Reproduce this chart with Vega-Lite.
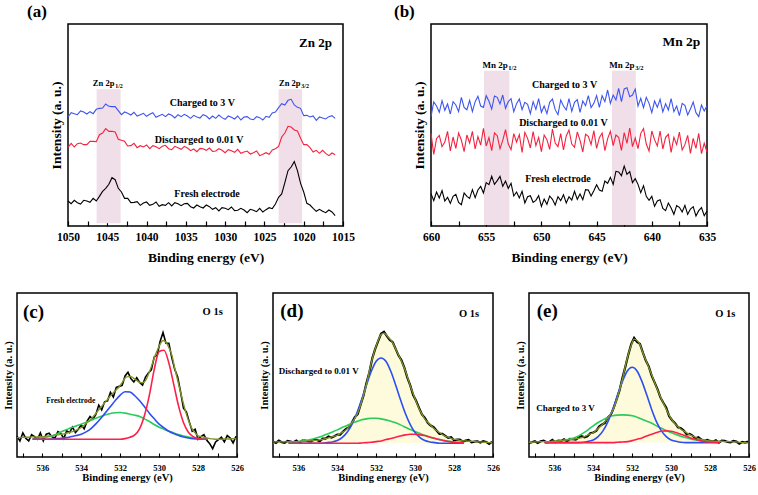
{
"$schema":"https://vega.github.io/schema/vega-lite/v6.json",
"padding":{"left":2,"top":2,"right":4,"bottom":4},
"config":{"font":"Liberation Serif, Times New Roman, serif","view":{"stroke":null},
"axis":{"labelFont":"Liberation Serif, Times New Roman, serif","titleFont":"Liberation Serif, Times New Roman, serif","labelFontWeight":"bold","titleFontWeight":"bold","labelColor":"#000","titleColor":"#000","tickColor":"#000","grid":false,"domain":false},
"text":{"font":"Liberation Serif, Times New Roman, serif","fontWeight":"bold","color":"#000"},
"title":{"font":"Liberation Serif, Times New Roman, serif","fontWeight":"bold","color":"#000"}},
"datasets":{
"A":[
{"be":1050,"k":75,"r":236,"b":327},{"be":1049.6,"k":67,"r":248,"b":340},{"be":1049.2,"k":77,"r":237,"b":337},{"be":1048.8,"k":70,"r":247,"b":334},{"be":1048.4,"k":66,"r":249,"b":345},{"be":1048,"k":77,"r":244,"b":342},{"be":1047.6,"k":75,"r":244,"b":336},{"be":1047.2,"k":71,"r":254,"b":343},{"be":1046.8,"k":83,"r":254,"b":337},{"be":1046.4,"k":75,"r":253,"b":350},
{"be":1046,"k":89,"r":274,"b":353},{"be":1045.6,"k":104,"r":279,"b":354},{"be":1045.2,"k":113,"r":292,"b":366},{"be":1044.8,"k":125,"r":284,"b":359},{"be":1044.4,"k":145,"r":284,"b":358},{"be":1044,"k":139,"r":282,"b":358},{"be":1043.6,"k":113,"r":260,"b":346},{"be":1043.2,"k":102,"r":257,"b":334},{"be":1042.8,"k":83,"r":254,"b":342},{"be":1042.4,"k":83,"r":240,"b":338},
{"be":1042,"k":70,"r":241,"b":333},{"be":1041.6,"k":71,"r":248,"b":341},{"be":1041.2,"k":73,"r":235,"b":330},{"be":1040.8,"k":62,"r":241,"b":334},{"be":1040.4,"k":69,"r":237,"b":338},{"be":1040,"k":72,"r":243,"b":329},{"be":1039.6,"k":62,"r":232,"b":335},{"be":1039.2,"k":65,"r":241,"b":340},{"be":1038.8,"k":72,"r":238,"b":326},{"be":1038.4,"k":59,"r":232,"b":331},
{"be":1038,"k":64,"r":239,"b":335},{"be":1037.6,"k":62,"r":242,"b":328},{"be":1037.2,"k":70,"r":232,"b":336},{"be":1036.8,"k":60,"r":229,"b":332},{"be":1036.4,"k":70,"r":239,"b":324},{"be":1036,"k":67,"r":235,"b":334},{"be":1035.6,"k":61,"r":230,"b":328},{"be":1035.2,"k":67,"r":239,"b":335},{"be":1034.8,"k":68,"r":234,"b":330},{"be":1034.4,"k":58,"r":226,"b":323},
{"be":1034,"k":54,"r":231,"b":332},{"be":1033.6,"k":63,"r":223,"b":327},{"be":1033.2,"k":58,"r":233,"b":324},{"be":1032.8,"k":54,"r":232,"b":334},{"be":1032.4,"k":63,"r":227,"b":330},{"be":1032,"k":58,"r":234,"b":321},{"be":1031.6,"k":50,"r":224,"b":330},{"be":1031.2,"k":55,"r":225,"b":323},{"be":1030.8,"k":45,"r":232,"b":333},{"be":1030.4,"k":55,"r":227,"b":325},
{"be":1030,"k":53,"r":220,"b":320},{"be":1029.6,"k":49,"r":229,"b":330},{"be":1029.2,"k":57,"r":226,"b":326},{"be":1028.8,"k":46,"r":221,"b":321},{"be":1028.4,"k":47,"r":230,"b":330},{"be":1028,"k":53,"r":218,"b":318},{"be":1027.6,"k":48,"r":222,"b":327},{"be":1027.2,"k":40,"r":225,"b":328},{"be":1026.8,"k":50,"r":216,"b":321},{"be":1026.4,"k":47,"r":220,"b":319},
{"be":1026,"k":43,"r":225,"b":328},{"be":1025.6,"k":53,"r":211,"b":325},{"be":1025.2,"k":42,"r":215,"b":318},{"be":1024.8,"k":49,"r":220,"b":329},{"be":1024.4,"k":55,"r":215,"b":326},{"be":1024,"k":52,"r":228,"b":339},{"be":1023.6,"k":66,"r":232,"b":342},{"be":1023.2,"k":86,"r":239,"b":355},{"be":1022.8,"k":96,"r":267,"b":367},{"be":1022.4,"k":130,"r":279,"b":363},
{"be":1022,"k":166,"r":299,"b":377},{"be":1021.6,"k":177,"r":297,"b":380},{"be":1021.2,"k":193,"r":288,"b":363},{"be":1020.8,"k":166,"r":285,"b":356},{"be":1020.4,"k":128,"r":263,"b":353},{"be":1020,"k":102,"r":244,"b":331},{"be":1019.6,"k":68,"r":244,"b":332},{"be":1019.2,"k":63,"r":235,"b":327},{"be":1018.8,"k":53,"r":222,"b":330},{"be":1018.4,"k":44,"r":227,"b":317},
{"be":1018,"k":50,"r":218,"b":327},{"be":1017.6,"k":44,"r":227,"b":324},{"be":1017.2,"k":40,"r":218,"b":321},{"be":1016.8,"k":48,"r":211,"b":328},{"be":1016.4,"k":42,"r":219,"b":331},{"be":1016,"k":31,"r":214,"b":323}],
"B":[
{"be":660,"k":97,"r":278,"b":328},{"be":659.75,"k":76,"r":215,"b":372},{"be":659.5,"k":102,"r":262,"b":360},{"be":659.25,"k":84,"r":272,"b":341},{"be":659,"k":106,"r":238,"b":376},{"be":658.75,"k":75,"r":252,"b":347},{"be":658.5,"k":86,"r":284,"b":366},{"be":658.25,"k":68,"r":225,"b":336},{"be":658,"k":89,"r":267,"b":373},{"be":657.75,"k":95,"r":233,"b":363},
{"be":657.5,"k":71,"r":279,"b":343},{"be":657.25,"k":64,"r":258,"b":386},{"be":657,"k":99,"r":223,"b":356},{"be":656.75,"k":89,"r":273,"b":349},{"be":656.5,"k":83,"r":249,"b":377},{"be":656.25,"k":109,"r":284,"b":343},{"be":656,"k":85,"r":231,"b":373},{"be":655.75,"k":108,"r":268,"b":389},{"be":655.5,"k":119,"r":243,"b":360},{"be":655.25,"k":99,"r":293,"b":356},
{"be":655,"k":130,"r":240,"b":391},{"be":654.75,"k":124,"r":265,"b":374},{"be":654.5,"k":149,"r":226,"b":351},{"be":654.25,"k":125,"r":279,"b":390},{"be":654,"k":136,"r":271,"b":386},{"be":653.75,"k":149,"r":232,"b":366},{"be":653.5,"k":119,"r":257,"b":393},{"be":653.25,"k":135,"r":289,"b":353},{"be":653,"k":113,"r":246,"b":373},{"be":652.75,"k":128,"r":229,"b":382},
{"be":652.5,"k":90,"r":277,"b":343},{"be":652.25,"k":102,"r":252,"b":367},{"be":652,"k":84,"r":274,"b":381},{"be":651.75,"k":104,"r":221,"b":349},{"be":651.5,"k":69,"r":281,"b":371},{"be":651.25,"k":88,"r":263,"b":365},{"be":651,"k":91,"r":234,"b":337},{"be":650.75,"k":71,"r":283,"b":373},{"be":650.5,"k":77,"r":241,"b":350},{"be":650.25,"k":91,"r":266,"b":382},
{"be":650,"k":59,"r":223,"b":341},{"be":649.75,"k":81,"r":273,"b":360},{"be":649.5,"k":65,"r":259,"b":337},{"be":649.25,"k":90,"r":230,"b":371},{"be":649,"k":80,"r":291,"b":381},{"be":648.75,"k":63,"r":249,"b":349},{"be":648.5,"k":88,"r":238,"b":334},{"be":648.25,"k":76,"r":277,"b":378},{"be":648,"k":94,"r":228,"b":360},{"be":647.75,"k":69,"r":270,"b":348},
{"be":647.5,"k":88,"r":288,"b":382},{"be":647.25,"k":78,"r":246,"b":344},{"be":647,"k":104,"r":236,"b":371},{"be":646.75,"k":80,"r":282,"b":379},{"be":646.5,"k":96,"r":257,"b":341},{"be":646.25,"k":79,"r":222,"b":375},{"be":646,"k":109,"r":275,"b":361},{"be":645.75,"k":108,"r":269,"b":391},{"be":645.5,"k":90,"r":244,"b":355},{"be":645.25,"k":106,"r":286,"b":368},
{"be":645,"k":124,"r":233,"b":391},{"be":644.75,"k":108,"r":265,"b":356},{"be":644.5,"k":104,"r":279,"b":391},{"be":644.25,"k":135,"r":226,"b":373},{"be":644,"k":128,"r":262,"b":408},{"be":643.75,"k":146,"r":284,"b":368},{"be":643.5,"k":125,"r":241,"b":393},{"be":643.25,"k":164,"r":273,"b":378},{"be":643,"k":162,"r":266,"b":413},{"be":642.75,"k":151,"r":227,"b":373},
{"be":642.5,"k":180,"r":280,"b":411},{"be":642.25,"k":155,"r":248,"b":415},{"be":642,"k":163,"r":294,"b":388},{"be":641.75,"k":130,"r":238,"b":393},{"be":641.5,"k":142,"r":264,"b":411},{"be":641.25,"k":125,"r":232,"b":360},{"be":641,"k":100,"r":278,"b":383},{"be":640.75,"k":121,"r":292,"b":355},{"be":640.5,"k":89,"r":246,"b":386},{"be":640.25,"k":77,"r":225,"b":368},
{"be":640,"k":89,"r":285,"b":340},{"be":639.75,"k":59,"r":259,"b":375},{"be":639.5,"k":75,"r":240,"b":356},{"be":639.25,"k":79,"r":285,"b":380},{"be":639,"k":53,"r":231,"b":342},{"be":638.75,"k":46,"r":266,"b":367},{"be":638.5,"k":69,"r":275,"b":348},{"be":638.25,"k":54,"r":221,"b":382},{"be":638,"k":35,"r":266,"b":343},{"be":637.75,"k":61,"r":244,"b":360},
{"be":637.5,"k":56,"r":282,"b":331},{"be":637.25,"k":42,"r":228,"b":368},{"be":637,"k":62,"r":244,"b":362},{"be":636.75,"k":35,"r":272,"b":333},{"be":636.5,"k":51,"r":218,"b":351},{"be":636.25,"k":58,"r":263,"b":372},{"be":636,"k":30,"r":233,"b":340},{"be":635.75,"k":46,"r":278,"b":328},{"be":635.5,"k":55,"r":217,"b":363},{"be":635.25,"k":31,"r":248,"b":345},
{"be":635,"k":45,"r":222,"b":361}],
"O":[
{"be":537.3,"c1":62,"c2":58,"d1":46,"d2":45,"e1":42,"e2":44},{"be":537.15,"c1":48,"c2":58,"d1":42,"d2":45,"e1":44,"e2":44},{"be":537,"c1":72,"c2":59,"d1":49,"d2":45,"e1":47,"e2":45},{"be":536.85,"c1":56,"c2":59,"d1":44,"d2":45,"e1":42,"e2":45},{"be":536.7,"c1":48,"c2":59,"d1":42,"d2":45,"e1":47,"e2":46},{"be":536.55,"c1":67,"c2":60,"d1":48,"d2":46,"e1":49,"e2":46},{"be":536.4,"c1":61,"c2":60,"d1":46,"d2":46,"e1":44,"e2":46},{"be":536.25,"c1":53,"c2":60,"d1":44,"d2":46,"e1":45,"e2":46},{"be":536.1,"c1":72,"c2":61,"d1":49,"d2":46,"e1":51,"e2":47},{"be":535.95,"c1":48,"c2":61,"d1":42,"d2":46,"e1":44,"e2":47},
{"be":535.8,"c1":68,"c2":62,"d1":49,"d2":47,"e1":49,"e2":48},{"be":535.65,"c1":71,"c2":63,"d1":49,"d2":47,"e1":48,"e2":49},{"be":535.5,"c1":60,"c2":64,"d1":47,"d2":48,"e1":53,"e2":50},{"be":535.35,"c1":57,"c2":65,"d1":46,"d2":48,"e1":47,"e2":51},{"be":535.2,"c1":76,"c2":66,"d1":52,"d2":49,"e1":54,"e2":52},{"be":535.05,"c1":71,"c2":68,"d1":51,"d2":50,"e1":53,"e2":53},{"be":534.9,"c1":55,"c2":69,"d1":47,"d2":51,"e1":52,"e2":54},{"be":534.75,"c1":78,"c2":71,"d1":55,"d2":53,"e1":58,"e2":56},{"be":534.6,"c1":73,"c2":74,"d1":55,"d2":55,"e1":62,"e2":58},{"be":534.45,"c1":89,"c2":76,"d1":61,"d2":57,"e1":59,"e2":61},
{"be":534.3,"c1":73,"c2":79,"d1":58,"d2":60,"e1":62,"e2":65},{"be":534.15,"c1":83,"c2":83,"d1":62,"d2":62,"e1":71,"e2":69},{"be":534,"c1":96,"c2":88,"d1":67,"d2":65,"e1":73,"e2":73},{"be":533.85,"c1":84,"c2":95,"d1":67,"d2":70,"e1":78,"e2":80},{"be":533.7,"c1":107,"c2":103,"d1":76,"d2":75,"e1":91,"e2":88},{"be":533.55,"c1":121,"c2":110,"d1":84,"d2":81,"e1":97,"e2":96},{"be":533.4,"c1":113,"c2":120,"d1":89,"d2":91,"e1":102,"e2":105},{"be":533.25,"c1":127,"c2":130,"d1":102,"d2":103,"e1":118,"e2":117},{"be":533.1,"c1":155,"c2":141,"d1":119,"d2":115,"e1":126,"e2":130},{"be":532.95,"c1":141,"c2":151,"d1":128,"d2":131,"e1":147,"e2":145},
{"be":532.8,"c1":165,"c2":162,"d1":156,"d2":155,"e1":172,"e2":170},{"be":532.65,"c1":168,"c2":172,"d1":184,"d2":185,"e1":199,"e2":200},{"be":532.5,"c1":193,"c2":183,"d1":221,"d2":218,"e1":237,"e2":233},{"be":532.35,"c1":179,"c2":192,"d1":253,"d2":257,"e1":270,"e2":272},{"be":532.2,"c1":208,"c2":201,"d1":295,"d2":293,"e1":306,"e2":307},{"be":532.05,"c1":211,"c2":210,"d1":323,"d2":323,"e1":337,"e2":334},{"be":531.9,"c1":214,"c2":222,"d1":346,"d2":348,"e1":356,"e2":352},{"be":531.75,"c1":242,"c2":236,"d1":368,"d2":366,"e1":344,"e2":348},{"be":531.6,"c1":253,"c2":240,"d1":374,"d2":370,"e1":338,"e2":336},{"be":531.45,"c1":234,"c2":240,"d1":361,"d2":363,"e1":312,"e2":311},
{"be":531.3,"c1":224,"c2":235,"d1":350,"d2":353,"e1":288,"e2":290},{"be":531.15,"c1":237,"c2":229,"d1":343,"d2":341,"e1":271,"e2":268},{"be":531,"c1":223,"c2":223,"d1":323,"d2":323,"e1":243,"e2":246},{"be":530.85,"c1":215,"c2":222,"d1":303,"d2":305,"e1":223,"e2":223},{"be":530.7,"c1":239,"c2":228,"d1":289,"d2":286,"e1":203,"e2":201},{"be":530.55,"c1":251,"c2":247,"d1":266,"d2":265,"e1":178,"e2":180},{"be":530.4,"c1":260,"c2":270,"d1":237,"d2":240,"e1":162,"e2":161},{"be":530.25,"c1":299,"c2":296,"d1":214,"d2":213,"e1":147,"e2":143},{"be":530.1,"c1":304,"c2":318,"d1":185,"d2":189,"e1":122,"e2":125},{"be":529.95,"c1":345,"c2":337,"d1":168,"d2":166,"e1":110,"e2":110},
{"be":529.8,"c1":372,"c2":348,"d1":147,"d2":145,"e1":101,"e2":99},{"be":529.65,"c1":340,"c2":343,"d1":127,"d2":128,"e1":89,"e2":91},{"be":529.5,"c1":340,"c2":327,"d1":117,"d2":113,"e1":86,"e2":83},{"be":529.35,"c1":297,"c2":305,"d1":102,"d2":104,"e1":79,"e2":78},{"be":529.2,"c1":262,"c2":266,"d1":94,"d2":95,"e1":68,"e2":72},{"be":529.05,"c1":240,"c2":230,"d1":89,"d2":86,"e1":69,"e2":67},{"be":528.9,"c1":195,"c2":194,"d1":79,"d2":79,"e1":64,"e2":63},{"be":528.75,"c1":146,"c2":159,"d1":69,"d2":73,"e1":56,"e2":59},{"be":528.6,"c1":135,"c2":128,"d1":69,"d2":67,"e1":59,"e2":55},{"be":528.45,"c1":105,"c2":102,"d1":63,"d2":62,"e1":52,"e2":53},
{"be":528.3,"c1":77,"c2":83,"d1":57,"d2":59,"e1":48,"e2":51},{"be":528.15,"c1":83,"c2":72,"d1":59,"d2":56,"e1":51,"e2":49},{"be":528,"c1":53,"c2":63,"d1":50,"d2":53,"e1":48,"e2":48},{"be":527.85,"c1":61,"c2":61,"d1":52,"d2":52,"e1":46,"e2":48},{"be":527.7,"c1":67,"c2":59,"d1":52,"d2":50,"e1":50,"e2":47},{"be":527.55,"c1":50,"c2":57,"d1":46,"d2":48,"e1":43,"e2":47},{"be":527.4,"c1":40,"c2":55,"d1":49,"d2":48,"e1":49,"e2":47},{"be":527.25,"c1":25,"c2":54,"d1":51,"d2":47,"e1":48,"e2":46},{"be":527.1,"c1":45,"c2":53,"d1":44,"d2":47,"e1":45,"e2":46},{"be":526.95,"c1":52,"c2":53,"d1":46,"d2":46,"e1":44,"e2":46},
{"be":526.8,"c1":59,"c2":53,"d1":47,"d2":45,"e1":48,"e2":45},{"be":526.65,"c1":45,"c2":54,"d1":43,"d2":45,"e1":46,"e2":45},{"be":526.5,"c1":64,"c2":54,"d1":47,"d2":44,"e1":40,"e2":44},{"be":526.35,"c1":57,"c2":54,"d1":45,"d2":44,"e1":45,"e2":43},{"be":526.2,"c1":42,"c2":55,"d1":39,"d2":43,"e1":43,"e2":43},{"be":526.05,"c1":62,"c2":55,"d1":45,"d2":43,"e1":46,"e2":42}],
"K":[
{"be":536.5,"cb":53,"cg":55,"cr":53,"db":41,"dg":44,"dr":41,"eb":43,"eg":44,"er":43},
{"be":536.25,"cb":53,"cg":56,"cr":53,"db":41,"dg":45,"dr":41,"eb":43,"eg":45,"er":43},
{"be":536,"cb":53,"cg":58,"cr":53,"db":41,"dg":46,"dr":41,"eb":43,"eg":46,"er":43},
{"be":535.75,"cb":53,"cg":60,"cr":53,"db":41,"dg":49,"dr":41,"eb":43,"eg":48,"er":43},
{"be":535.5,"cb":54,"cg":63,"cr":53,"db":41,"dg":51,"dr":41,"eb":43,"eg":50,"er":43},
{"be":535.25,"cb":55,"cg":69,"cr":53,"db":41,"dg":54,"dr":41,"eb":43,"eg":53,"er":43},
{"be":535,"cb":56,"cg":76,"cr":53,"db":41,"dg":58,"dr":41,"eb":43,"eg":57,"er":43},
{"be":534.75,"cb":58,"cg":82,"cr":53,"db":41,"dg":63,"dr":41,"eb":43,"eg":63,"er":43},
{"be":534.5,"cb":61,"cg":88,"cr":53,"db":43,"dg":69,"dr":41,"eb":44,"eg":72,"er":43},
{"be":534.25,"cb":64,"cg":93,"cr":53,"db":45,"dg":75,"dr":41,"eb":47,"eg":82,"er":43},
{"be":534,"cb":68,"cg":98,"cr":53,"db":49,"dg":81,"dr":41,"eb":51,"eg":93,"er":43},
{"be":533.75,"cb":75,"cg":104,"cr":53,"db":58,"dg":88,"dr":41,"eb":61,"eg":103,"er":43},
{"be":533.5,"cb":85,"cg":110,"cr":53,"db":73,"dg":94,"dr":41,"eb":78,"eg":111,"er":43},
{"be":533.25,"cb":99,"cg":116,"cr":53,"db":97,"dg":101,"dr":41,"eb":105,"eg":119,"er":43},
{"be":533,"cb":115,"cg":121,"cr":53,"db":130,"dg":106,"dr":41,"eb":142,"eg":123,"er":43},
{"be":532.75,"cb":133,"cg":126,"cr":53,"db":171,"dg":111,"dr":42,"eb":185,"eg":125,"er":44},
{"be":532.5,"cb":151,"cg":130,"cr":53,"db":215,"dg":114,"dr":43,"eb":226,"eg":126,"er":45},
{"be":532.25,"cb":169,"cg":132,"cr":53,"db":256,"dg":116,"dr":44,"eb":257,"eg":125,"er":46},
{"be":532,"cb":185,"cg":133,"cr":53,"db":286,"dg":116,"dr":46,"eb":268,"eg":123,"er":49},
{"be":531.75,"cb":195,"cg":131,"cr":55,"db":296,"dg":114,"dr":48,"eb":257,"eg":119,"er":53},
{"be":531.5,"cb":194,"cg":128,"cr":59,"db":286,"dg":111,"dr":52,"eb":226,"eg":113,"er":57},
{"be":531.25,"cb":183,"cg":125,"cr":66,"db":256,"dg":107,"dr":55,"eb":185,"eg":107,"er":63},
{"be":531,"cb":168,"cg":121,"cr":85,"db":215,"dg":102,"dr":59,"eb":142,"eg":101,"er":68},
{"be":530.75,"cb":150,"cg":114,"cr":125,"db":171,"dg":96,"dr":63,"eb":105,"eg":93,"er":73},
{"be":530.5,"cb":131,"cg":106,"cr":185,"db":130,"dg":89,"dr":66,"eb":78,"eg":86,"er":77},
{"be":530.25,"cb":114,"cg":97,"cr":262,"db":97,"dg":82,"dr":68,"eb":61,"eg":79,"er":78},
{"be":530,"cb":98,"cg":89,"cr":315,"db":73,"dg":76,"dr":68,"eb":51,"eg":73,"er":77},
{"be":529.75,"cb":87,"cg":83,"cr":319,"db":58,"dg":70,"dr":66,"eb":47,"eg":67,"er":73},
{"be":529.5,"cb":77,"cg":77,"cr":281,"db":49,"dg":64,"dr":64,"eb":44,"eg":62,"er":68},
{"be":529.25,"cb":70,"cg":72,"cr":217,"db":45,"dg":59,"dr":60,"eb":43,"eg":58,"er":63},
{"be":529,"cb":64,"cg":67,"cr":152,"db":43,"dg":55,"dr":56,"eb":43,"eg":54,"er":57},
{"be":528.75,"cb":60,"cg":63,"cr":103,"db":41,"dg":52,"dr":52,"eb":43,"eg":51,"er":53},
{"be":528.5,"cb":57,"cg":60,"cr":74,"db":41,"dg":49,"dr":49,"eb":43,"eg":49,"er":49},
{"be":528.25,"cb":55,"cg":57,"cr":61,"db":41,"dg":47,"dr":46,"eb":43,"eg":47,"er":46},
{"be":528,"cb":54,"cg":55,"cr":55,"db":41,"dg":45,"dr":44,"eb":43,"eg":46,"er":45},
{"be":527.75,"cb":53,"cg":54,"cr":53,"db":41,"dg":44,"dr":43,"eb":43,"eg":45,"er":44},
{"be":527.5,"cb":53,"cg":53,"cr":53,"db":41,"dg":43,"dr":42,"eb":43,"eg":44,"er":43}]
},
"spacing":27,
"vconcat":[
{"spacing":8,"hconcat":[
 {"width":1,"height":1,"data":{"values":[]},"mark":"point"},
 {"spacing":37,"hconcat":[
  {"width":275,"height":202,"view":{"stroke":"#000","strokeWidth":1.5},
   "title":{"text":"(a)","anchor":"start","frame":"group","dx":-41,"offset":3,"fontSize":17},
   "encoding":{"x":{"field":"be","type":"quantitative","scale":{"domain":[1015,1050],"reverse":true,"nice":false,"zero":false},
     "axis":{"title":"Binding energy (eV)","values":[1015,1017.5,1020,1022.5,1025,1027.5,1030,1032.5,1035,1037.5,1040,1042.5,1045,1047.5,1050],"format":"d","labelExpr":"datum.value % 5 == 0 ? datum.label : ''","tickSize":-5,"tickWidth":1.2,"labelPadding":10,"labelFontSize":11.5,"titleFontSize":13.5,"titlePadding":8,"labelFlush":false,"labelOverlap":false}}},
   "layer":[
    {"data":{"values":[{"be":1046.36,"be2":1043.3,"v":8,"v2":410},{"be":1023.2,"be2":1020.2,"v":8,"v2":410}]},
     "mark":{"type":"rect","color":"#f0dee8"},
     "encoding":{"x2":{"field":"be2"},"y":{"field":"v","type":"quantitative","scale":{"domain":[0,606],"nice":false,"zero":false},"axis":{"title":"Intensity (a. u.)","ticks":false,"labels":false,"titlePadding":5,"titleFontSize":13.5}},"y2":{"field":"v2"}}},
    {"data":{"name":"A"},"mark":{"type":"line","color":"#000","strokeWidth":1.1},"encoding":{"y":{"field":"k","type":"quantitative","scale":{"domain":[0,606],"nice":false,"zero":false},"axis":{"title":"Intensity (a. u.)","ticks":false,"labels":false,"titlePadding":5,"titleFontSize":13.5}}}},
    {"data":{"name":"A"},"mark":{"type":"line","color":"#f5223f","strokeWidth":1.1},"encoding":{"y":{"field":"r","type":"quantitative","scale":{"domain":[0,606],"nice":false,"zero":false},"axis":{"title":"Intensity (a. u.)","ticks":false,"labels":false,"titlePadding":5,"titleFontSize":13.5}}}},
    {"data":{"name":"A"},"mark":{"type":"line","color":"#3d55f0","strokeWidth":1.1},"encoding":{"y":{"field":"b","type":"quantitative","scale":{"domain":[0,606],"nice":false,"zero":false},"axis":{"title":"Intensity (a. u.)","ticks":false,"labels":false,"titlePadding":5,"titleFontSize":13.5}}}},
    {"data":{"values":[{"be":1032.9,"v":368,"t":"Charged to 3 V"},{"be":1033.3,"v":258,"t":"Discharged to 0.01 V"},{"be":1032.3,"v":95,"t":"Fresh electrode"}]},
     "mark":{"type":"text","fontSize":10,"align":"center","baseline":"middle"},
     "encoding":{"y":{"field":"v","type":"quantitative","scale":{"domain":[0,606],"nice":false,"zero":false},"axis":{"title":"Intensity (a. u.)","ticks":false,"labels":false,"titlePadding":5,"titleFontSize":13.5}},"text":{"field":"t"}}},
    {"data":{"values":[{"be":1044.1,"v":430,"t":"Zn 2p"},{"be":1020.4,"v":430,"t":"Zn 2p"}]},
     "mark":{"type":"text","fontSize":8.5,"align":"right","baseline":"middle"},
     "encoding":{"y":{"field":"v","type":"quantitative","scale":{"domain":[0,606],"nice":false,"zero":false},"axis":{"title":"Intensity (a. u.)","ticks":false,"labels":false,"titlePadding":5,"titleFontSize":13.5}},"text":{"field":"t"}}},
    {"data":{"values":[{"be":1044.0,"v":420,"t":"1/2"},{"be":1020.3,"v":420,"t":"3/2"}]},
     "mark":{"type":"text","fontSize":6,"align":"left","baseline":"middle"},
     "encoding":{"y":{"field":"v","type":"quantitative","scale":{"domain":[0,606],"nice":false,"zero":false},"axis":{"title":"Intensity (a. u.)","ticks":false,"labels":false,"titlePadding":5,"titleFontSize":13.5}},"text":{"field":"t"}}},
    {"data":{"values":[{"be":1016.4,"v":548,"t":"Zn 2p"}]},
     "mark":{"type":"text","fontSize":13,"align":"right","baseline":"middle"},
     "encoding":{"y":{"field":"v","type":"quantitative","scale":{"domain":[0,606],"nice":false,"zero":false},"axis":{"title":"Intensity (a. u.)","ticks":false,"labels":false,"titlePadding":5,"titleFontSize":13.5}},"text":{"field":"t"}}}
   ]},
  {"width":276,"height":202,"view":{"stroke":"#000","strokeWidth":1.5},
   "title":{"text":"(b)","anchor":"start","frame":"group","dx":-37,"offset":3,"fontSize":17},
   "encoding":{"x":{"field":"be","type":"quantitative","scale":{"domain":[635,660],"reverse":true,"nice":false,"zero":false},
     "axis":{"title":"Binding energy (eV)","values":[635,637.5,640,642.5,645,647.5,650,652.5,655,657.5,660],"format":"d","labelExpr":"datum.value % 5 == 0 ? datum.label : ''","tickSize":-5,"tickWidth":1.2,"labelPadding":10,"labelFontSize":11.5,"titleFontSize":13.5,"titlePadding":8,"labelFlush":false,"labelOverlap":false}}},
   "layer":[
    {"data":{"values":[{"be":655.2,"be2":652.9,"v":3,"v2":466},{"be":643.6,"be2":641.45,"v":3,"v2":466}]},
     "mark":{"type":"rect","color":"#f0dee8"},
     "encoding":{"x2":{"field":"be2"},"y":{"field":"v","type":"quantitative","scale":{"domain":[0,606],"nice":false,"zero":false},"axis":{"title":"Intensity (a. u.)","ticks":false,"labels":false,"titlePadding":5,"titleFontSize":13.5}},"y2":{"field":"v2"}}},
    {"data":{"name":"B"},"mark":{"type":"line","color":"#000","strokeWidth":1.1},"encoding":{"y":{"field":"k","type":"quantitative","scale":{"domain":[0,606],"nice":false,"zero":false},"axis":{"title":"Intensity (a. u.)","ticks":false,"labels":false,"titlePadding":5,"titleFontSize":13.5}}}},
    {"data":{"name":"B"},"mark":{"type":"line","color":"#f5223f","strokeWidth":1.1},"encoding":{"y":{"field":"r","type":"quantitative","scale":{"domain":[0,606],"nice":false,"zero":false},"axis":{"title":"Intensity (a. u.)","ticks":false,"labels":false,"titlePadding":5,"titleFontSize":13.5}}}},
    {"data":{"name":"B"},"mark":{"type":"line","color":"#3d55f0","strokeWidth":1.1},"encoding":{"y":{"field":"b","type":"quantitative","scale":{"domain":[0,606],"nice":false,"zero":false},"axis":{"title":"Intensity (a. u.)","ticks":false,"labels":false,"titlePadding":5,"titleFontSize":13.5}}}},
    {"data":{"values":[{"be":647.9,"v":423,"t":"Charged to 3 V"},{"be":648.0,"v":308,"t":"Discharged to 0.01 V"},{"be":648.5,"v":140,"t":"Fresh electrode"}]},
     "mark":{"type":"text","fontSize":10,"align":"center","baseline":"middle"},
     "encoding":{"y":{"field":"v","type":"quantitative","scale":{"domain":[0,606],"nice":false,"zero":false},"axis":{"title":"Intensity (a. u.)","ticks":false,"labels":false,"titlePadding":5,"titleFontSize":13.5}},"text":{"field":"t"}}},
    {"data":{"values":[{"be":653.05,"v":483,"t":"Mn 2p"},{"be":641.56,"v":483,"t":"Mn 2p"}]},
     "mark":{"type":"text","fontSize":9,"align":"right","baseline":"middle"},
     "encoding":{"y":{"field":"v","type":"quantitative","scale":{"domain":[0,606],"nice":false,"zero":false},"axis":{"title":"Intensity (a. u.)","ticks":false,"labels":false,"titlePadding":5,"titleFontSize":13.5}},"text":{"field":"t"}}},
    {"data":{"values":[{"be":653.0,"v":474,"t":"1/2"},{"be":641.5,"v":474,"t":"3/2"}]},
     "mark":{"type":"text","fontSize":6.5,"align":"left","baseline":"middle"},
     "encoding":{"y":{"field":"v","type":"quantitative","scale":{"domain":[0,606],"nice":false,"zero":false},"axis":{"title":"Intensity (a. u.)","ticks":false,"labels":false,"titlePadding":5,"titleFontSize":13.5}},"text":{"field":"t"}}},
    {"data":{"values":[{"be":635.6,"v":553,"t":"Mn 2p"}]},
     "mark":{"type":"text","fontSize":13.5,"align":"right","baseline":"middle"},
     "encoding":{"y":{"field":"v","type":"quantitative","scale":{"domain":[0,606],"nice":false,"zero":false},"axis":{"title":"Intensity (a. u.)","ticks":false,"labels":false,"titlePadding":5,"titleFontSize":13.5}},"text":{"field":"t"}}}
   ]}
 ]}
]},
{"spacing":13,"hconcat":[
 {"width":220,"height":164,"view":{"stroke":"#000","strokeWidth":1.5},
  "encoding":{"x":{"field":"be","type":"quantitative","scale":{"domain":[526,537.3],"reverse":true,"nice":false,"zero":false},
    "axis":{"title":"Binding energy (eV)","values":[526,527,528,529,530,531,532,533,534,535,536,537],"format":"d","labelExpr":"datum.value % 2 == 0 ? datum.label : ''","tickSize":-4,"tickWidth":1.1,"labelPadding":10,"labelFontSize":8.5,"titleFontSize":10.5,"titlePadding":1,"labelFlush":false,"labelOverlap":false}}},
  "layer":[
   {"data":{"values":[{}]},"mark":{"type":"rule","color":"#a9c1ea","strokeDash":[2,2],"strokeWidth":1},"encoding":{"x":{"datum":535.5},"x2":{"datum":526.5},"y":{"datum":53,"type":"quantitative","scale":{"domain":[0,490],"nice":false,"zero":false},"axis":{"title":"Intensity (a. u.)","ticks":false,"labels":false,"titlePadding":4,"titleFontSize":10.5}}}},
   {"data":{"name":"O"},"mark":{"type":"line","color":"#000","strokeWidth":1.6},"encoding":{"y":{"field":"c1","type":"quantitative","scale":{"domain":[0,490],"nice":false,"zero":false},"axis":{"title":"Intensity (a. u.)","ticks":false,"labels":false,"titlePadding":4,"titleFontSize":10.5}}}},
   {"data":{"name":"K"},"mark":{"type":"line","color":"#29cc5b","strokeWidth":1.6,"interpolate":"monotone"},"encoding":{"y":{"field":"cg","type":"quantitative","scale":{"domain":[0,490],"nice":false,"zero":false},"axis":{"title":"Intensity (a. u.)","ticks":false,"labels":false,"titlePadding":4,"titleFontSize":10.5}}}},
   {"data":{"name":"K"},"mark":{"type":"line","color":"#2c4ff2","strokeWidth":1.6,"interpolate":"monotone"},"encoding":{"y":{"field":"cb","type":"quantitative","scale":{"domain":[0,490],"nice":false,"zero":false},"axis":{"title":"Intensity (a. u.)","ticks":false,"labels":false,"titlePadding":4,"titleFontSize":10.5}}}},
   {"data":{"name":"K"},"mark":{"type":"line","color":"#ff1f4a","strokeWidth":1.6,"interpolate":"monotone"},"encoding":{"y":{"field":"cr","type":"quantitative","scale":{"domain":[0,490],"nice":false,"zero":false},"axis":{"title":"Intensity (a. u.)","ticks":false,"labels":false,"titlePadding":4,"titleFontSize":10.5}}}},
   {"data":{"name":"O"},"mark":{"type":"line","color":"#7f9526","strokeWidth":1.4,"interpolate":"monotone"},"encoding":{"y":{"field":"c2","type":"quantitative","scale":{"domain":[0,490],"nice":false,"zero":false},"axis":{"title":"Intensity (a. u.)","ticks":false,"labels":false,"titlePadding":4,"titleFontSize":10.5}}}},
   {"data":{"values":[{"be":536.45,"v":433,"t":"(c)","s":19},{"be":527.25,"v":433,"t":"O 1s","s":10.5}]},"mark":{"type":"text","align":"center","baseline":"middle"},
    "encoding":{"y":{"field":"v","type":"quantitative","scale":{"domain":[0,490],"nice":false,"zero":false},"axis":{"title":"Intensity (a. u.)","ticks":false,"labels":false,"titlePadding":4,"titleFontSize":10.5}},"text":{"field":"t"},"size":{"field":"s","type":"quantitative","scale":null}}},
   {"data":{"values":[{"be":535.8,"v":168,"t":"Fresh electrode"}]},"mark":{"type":"text","align":"left","baseline":"middle","fontSize":7.5},
    "encoding":{"y":{"field":"v","type":"quantitative","scale":{"domain":[0,490],"nice":false,"zero":false},"axis":{"title":"Intensity (a. u.)","ticks":false,"labels":false,"titlePadding":4,"titleFontSize":10.5}},"text":{"field":"t"}}}
  ]},
 {"width":220,"height":164,"view":{"stroke":"#000","strokeWidth":1.5},
  "encoding":{"x":{"field":"be","type":"quantitative","scale":{"domain":[526,537.3],"reverse":true,"nice":false,"zero":false},
    "axis":{"title":"Binding energy (eV)","values":[526,527,528,529,530,531,532,533,534,535,536,537],"format":"d","labelExpr":"datum.value % 2 == 0 ? datum.label : ''","tickSize":-4,"tickWidth":1.1,"labelPadding":10,"labelFontSize":8.5,"titleFontSize":10.5,"titlePadding":1,"labelFlush":false,"labelOverlap":false}}},
  "layer":[
   {"data":{"name":"O"},"mark":{"type":"area","color":"#fefbdc","interpolate":"monotone"},"encoding":{"y":{"field":"d2","type":"quantitative","scale":{"domain":[0,490],"nice":false,"zero":false},"axis":{"title":"Intensity (a. u.)","ticks":false,"labels":false,"titlePadding":4,"titleFontSize":10.5}},"y2":{"datum":41}}},
   {"data":{"values":[{}]},"mark":{"type":"rule","color":"#a9c1ea","strokeDash":[2,2],"strokeWidth":1},"encoding":{"x":{"datum":535.5},"x2":{"datum":526.5},"y":{"datum":41,"type":"quantitative","scale":{"domain":[0,490],"nice":false,"zero":false},"axis":{"title":"Intensity (a. u.)","ticks":false,"labels":false,"titlePadding":4,"titleFontSize":10.5}}}},
   {"data":{"name":"O"},"mark":{"type":"line","color":"#000","strokeWidth":2.2},"encoding":{"y":{"field":"d1","type":"quantitative","scale":{"domain":[0,490],"nice":false,"zero":false},"axis":{"title":"Intensity (a. u.)","ticks":false,"labels":false,"titlePadding":4,"titleFontSize":10.5}}}},
   {"data":{"name":"K"},"mark":{"type":"line","color":"#29cc5b","strokeWidth":1.6,"interpolate":"monotone"},"encoding":{"y":{"field":"dg","type":"quantitative","scale":{"domain":[0,490],"nice":false,"zero":false},"axis":{"title":"Intensity (a. u.)","ticks":false,"labels":false,"titlePadding":4,"titleFontSize":10.5}}}},
   {"data":{"name":"K"},"mark":{"type":"line","color":"#2c4ff2","strokeWidth":1.6,"interpolate":"monotone"},"encoding":{"y":{"field":"db","type":"quantitative","scale":{"domain":[0,490],"nice":false,"zero":false},"axis":{"title":"Intensity (a. u.)","ticks":false,"labels":false,"titlePadding":4,"titleFontSize":10.5}}}},
   {"data":{"name":"K"},"mark":{"type":"line","color":"#ff1f4a","strokeWidth":1.6,"interpolate":"monotone"},"encoding":{"y":{"field":"dr","type":"quantitative","scale":{"domain":[0,490],"nice":false,"zero":false},"axis":{"title":"Intensity (a. u.)","ticks":false,"labels":false,"titlePadding":4,"titleFontSize":10.5}}}},
   {"data":{"name":"O"},"mark":{"type":"line","color":"#7f9526","strokeWidth":1.3,"interpolate":"monotone"},"encoding":{"y":{"field":"d2","type":"quantitative","scale":{"domain":[0,490],"nice":false,"zero":false},"axis":{"title":"Intensity (a. u.)","ticks":false,"labels":false,"titlePadding":4,"titleFontSize":10.5}}}},
   {"data":{"values":[{"be":536.33,"v":436,"t":"(d)","s":19},{"be":527.23,"v":428,"t":"O 1s","s":10.5}]},"mark":{"type":"text","align":"center","baseline":"middle"},
    "encoding":{"y":{"field":"v","type":"quantitative","scale":{"domain":[0,490],"nice":false,"zero":false},"axis":{"title":"Intensity (a. u.)","ticks":false,"labels":false,"titlePadding":4,"titleFontSize":10.5}},"text":{"field":"t"},"size":{"field":"s","type":"quantitative","scale":null}}},
   {"data":{"values":[{"be":537.0,"v":258,"t":"Discharged to 0.01 V"}]},"mark":{"type":"text","align":"left","baseline":"middle","fontSize":9},
    "encoding":{"y":{"field":"v","type":"quantitative","scale":{"domain":[0,490],"nice":false,"zero":false},"axis":{"title":"Intensity (a. u.)","ticks":false,"labels":false,"titlePadding":4,"titleFontSize":10.5}},"text":{"field":"t"}}}
  ]},
 {"width":220,"height":164,"view":{"stroke":"#000","strokeWidth":1.5},
  "encoding":{"x":{"field":"be","type":"quantitative","scale":{"domain":[526,537.3],"reverse":true,"nice":false,"zero":false},
    "axis":{"title":"Binding energy (eV)","values":[526,527,528,529,530,531,532,533,534,535,536,537],"format":"d","labelExpr":"datum.value % 2 == 0 ? datum.label : ''","tickSize":-4,"tickWidth":1.1,"labelPadding":10,"labelFontSize":8.5,"titleFontSize":10.5,"titlePadding":1,"labelFlush":false,"labelOverlap":false}}},
  "layer":[
   {"data":{"name":"O"},"mark":{"type":"area","color":"#fefbdc","interpolate":"monotone"},"encoding":{"y":{"field":"e2","type":"quantitative","scale":{"domain":[0,490],"nice":false,"zero":false},"axis":{"title":"Intensity (a. u.)","ticks":false,"labels":false,"titlePadding":4,"titleFontSize":10.5}},"y2":{"datum":43}}},
   {"data":{"values":[{}]},"mark":{"type":"rule","color":"#a9c1ea","strokeDash":[2,2],"strokeWidth":1},"encoding":{"x":{"datum":535.5},"x2":{"datum":526.5},"y":{"datum":43,"type":"quantitative","scale":{"domain":[0,490],"nice":false,"zero":false},"axis":{"title":"Intensity (a. u.)","ticks":false,"labels":false,"titlePadding":4,"titleFontSize":10.5}}}},
   {"data":{"name":"O"},"mark":{"type":"line","color":"#000","strokeWidth":2.2},"encoding":{"y":{"field":"e1","type":"quantitative","scale":{"domain":[0,490],"nice":false,"zero":false},"axis":{"title":"Intensity (a. u.)","ticks":false,"labels":false,"titlePadding":4,"titleFontSize":10.5}}}},
   {"data":{"name":"K"},"mark":{"type":"line","color":"#29cc5b","strokeWidth":1.6,"interpolate":"monotone"},"encoding":{"y":{"field":"eg","type":"quantitative","scale":{"domain":[0,490],"nice":false,"zero":false},"axis":{"title":"Intensity (a. u.)","ticks":false,"labels":false,"titlePadding":4,"titleFontSize":10.5}}}},
   {"data":{"name":"K"},"mark":{"type":"line","color":"#2c4ff2","strokeWidth":1.6,"interpolate":"monotone"},"encoding":{"y":{"field":"eb","type":"quantitative","scale":{"domain":[0,490],"nice":false,"zero":false},"axis":{"title":"Intensity (a. u.)","ticks":false,"labels":false,"titlePadding":4,"titleFontSize":10.5}}}},
   {"data":{"name":"K"},"mark":{"type":"line","color":"#ff1f4a","strokeWidth":1.6,"interpolate":"monotone"},"encoding":{"y":{"field":"er","type":"quantitative","scale":{"domain":[0,490],"nice":false,"zero":false},"axis":{"title":"Intensity (a. u.)","ticks":false,"labels":false,"titlePadding":4,"titleFontSize":10.5}}}},
   {"data":{"name":"O"},"mark":{"type":"line","color":"#7f9526","strokeWidth":1.3,"interpolate":"monotone"},"encoding":{"y":{"field":"e2","type":"quantitative","scale":{"domain":[0,490],"nice":false,"zero":false},"axis":{"title":"Intensity (a. u.)","ticks":false,"labels":false,"titlePadding":4,"titleFontSize":10.5}}}},
   {"data":{"values":[{"be":536.36,"v":436,"t":"(e)","s":19},{"be":527.22,"v":428,"t":"O 1s","s":10.5}]},"mark":{"type":"text","align":"center","baseline":"middle"},
    "encoding":{"y":{"field":"v","type":"quantitative","scale":{"domain":[0,490],"nice":false,"zero":false},"axis":{"title":"Intensity (a. u.)","ticks":false,"labels":false,"titlePadding":4,"titleFontSize":10.5}},"text":{"field":"t"},"size":{"field":"s","type":"quantitative","scale":null}}},
   {"data":{"values":[{"be":536.93,"v":146,"t":"Charged to 3 V"}]},"mark":{"type":"text","align":"left","baseline":"middle","fontSize":9},
    "encoding":{"y":{"field":"v","type":"quantitative","scale":{"domain":[0,490],"nice":false,"zero":false},"axis":{"title":"Intensity (a. u.)","ticks":false,"labels":false,"titlePadding":4,"titleFontSize":10.5}},"text":{"field":"t"}}}
  ]}
]}
]
}
